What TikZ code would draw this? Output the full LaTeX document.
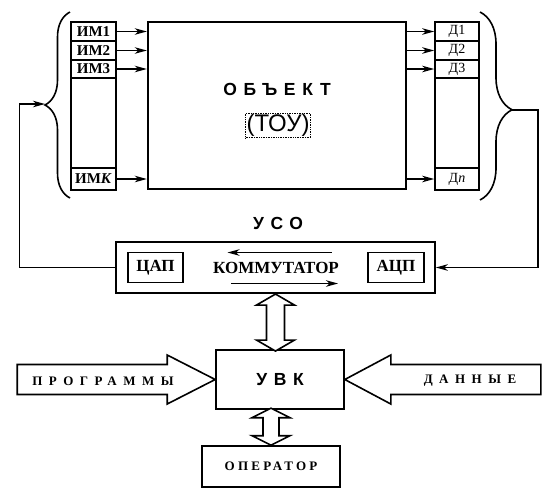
\documentclass[tikz,border=0pt]{standalone}
\usepackage{fontspec}
\setmainfont{Liberation Serif}
\setsansfont{Liberation Sans}
\newfontfamily\widesans[LetterSpace=38]{Liberation Sans}
\newfontfamily\wideserif[LetterSpace=50]{Liberation Serif}
\newfontfamily\midserif[LetterSpace=25]{Liberation Serif}
\usetikzlibrary{arrows.meta,decorations.pathreplacing}

\begin{document}
\begin{tikzpicture}[x=1pt,y=-1pt,thick]

    \tikzset{unit/.style={%
      draw,%
      rectangle,%
      line width=1.6pt,%
      inner sep=0pt}%
    };
    \tikzset{cell/.style={%
      unit,%
      minimum width=45pt,%
      minimum height=19pt,%
      font=\bfseries\fontsize{15}{15}\selectfont}%
    };
    \tikzset{dcell/.style={cell, minimum width=44pt, font=\fontsize{14}{14}\selectfont}};
    \tikzset{title/.style={font=\widesans\bfseries\fontsize{17.5}{17.5}\selectfont}};
    \tikzset{sig/.style={line width=1.4pt, -{Stealth[length=12pt,width=6.5pt,inset=3.5pt]}}};
    \tikzset{bigarrow/.style={draw, line width=1.6pt, fill=white, line join=miter}};
    \tikzset{curly/.style={line width=1.6pt, decorate}};

    \useasboundingbox (0,0) rectangle (553,491);

    %%%%%%%%%%%%%%%%%%%%%
    % object and ports  %
    %%%%%%%%%%%%%%%%%%%%%
    \node[unit, line width=2.4pt, minimum width=258pt, minimum height=167pt] (obj) at (277,105.5) {};
    \node[title] (objname) at (277,89) {ОБЪЕКТ};
    \node[draw, densely dotted, line width=0.7pt, inner sep=1pt,
      font=\sffamily\fontsize{24}{24}\selectfont] (tou) at (278,125.5) {(ТОУ)};

    \node[cell] (im1) at (93.5,31.5) {ИМ1};
    \node[cell] (im2) at (93.5,50.5) {ИМ2};
    \node[cell, minimum height=18pt] (im3) at (93.5,69) {ИМ3};
    \node[cell, minimum height=90pt] (imgap) at (93.5,123) {};
    \node[cell, minimum height=22pt] (imk) at (93.5,179) {ИМ\textit{К}};

    \node[dcell] (d1) at (457,31.5) {Д1};
    \node[dcell] (d2) at (457,50.5) {Д2};
    \node[dcell, minimum height=18pt] (d3) at (457,69) {Д3};
    \node[dcell, minimum height=90pt] (dgap) at (457,123) {};
    \node[dcell, minimum height=22pt] (dn) at (457,179) {Д\textit{n}};

    \draw[sig] (im1.east) -- (im1.east -| obj.west);
    \draw[sig] (im2.east) -- (im2.east -| obj.west);
    \draw[sig] (im3.east) -- (im3.east -| obj.west);
    \draw[sig] (imk.east) -- (imk.east -| obj.west);

    \draw[sig] (d1.west -| obj.east) -- (d1.west);
    \draw[sig] (d2.west -| obj.east) -- (d2.west);
    \draw[sig] (d3.west -| obj.east) -- (d3.west);
    \draw[sig] (dn.west -| obj.east) -- (dn.west);

    % braces
    \coordinate (lbtop) at (70,12);
    \coordinate (lbbot) at (70,198);
    \coordinate (lbtip) at (45,104);
    \coordinate (rbtop) at (480,12);
    \coordinate (rbbot) at (480,200);
    \coordinate (rbtip) at (512,110);
    \draw[curly, decoration={brace, amplitude=25pt, aspect=0.5}] (lbbot) -- (lbtop);
    \draw[curly, decoration={brace, amplitude=32pt, aspect=0.52}] (rbtop) -- (rbbot);

    %%%%%%%%%%%%%%%
    % USO         %
    %%%%%%%%%%%%%%%
    \node[unit, minimum width=319pt, minimum height=51.5pt] (uso) at (275.5,267.5) {};
    \node[title] (usoname) at (278,223) {УСО};
    \node[unit, minimum width=55pt, minimum height=30pt,
      font=\bfseries\fontsize{17}{17}\selectfont] (dac) at (155.5,267.5) {ЦАП};
    \node[unit, minimum width=56pt, minimum height=30pt,
      font=\bfseries\fontsize{17}{17}\selectfont] (adc) at (396,267.5) {АЦП};
    \node[font=\bfseries\fontsize{17}{17}\selectfont] (komm) at (276,268) {КОММУТАТОР};
    \draw[sig] ([shift={(55.5,-15.5)}]komm.center) -- ++(-104,0);
    \draw[sig] ([shift={(-45,15.5)}]komm.center) -- ++(107,0);

    \draw[sig] (uso.west) -- ++(-96,0) |- (lbtip);
    \draw[sig] (rbtip) -- ++(26,0) |- (uso.east);

    %%%%%%%%%%%%%%%
    % UVK         %
    %%%%%%%%%%%%%%%
    \node[unit, minimum width=128pt, minimum height=59pt, title] (uvk) at (280,379.5) {УВК};
    \node[unit, minimum width=138pt, minimum height=41pt,
      font=\midserif\bfseries\fontsize{13}{13}\selectfont] (oper) at (271,466.5) {ОПЕРАТОР};

    \draw[bigarrow] (uvk.west) -- ++(-48,-24.5) -- ++(0,9.5) -- ++(-150,0) -- ++(0,30)
      -- ++(150,0) -- ++(0,9.5) -- cycle;
    \draw[bigarrow] (uvk.east) -- ++(46,-24.5) -- ++(0,9.5) -- ++(150,0) -- ++(0,30)
      -- ++(-150,0) -- ++(0,9.5) -- cycle;
    \node[font=\wideserif\bfseries\fontsize{13}{13}\selectfont] (prog) at (103,381) {ПРОГРАММЫ};
    \node[font=\wideserif\bfseries\fontsize{13}{13}\selectfont] (data) at (470,381) {ДАННЫЕ};

    \draw[bigarrow] (uso.south) -- ++(19,11) -- ++(-10,0) -- ++(0,35) -- ++(10,0)
      -- ++(-19,11) -- ++(-19,-11) -- ++(10,0) -- ++(0,-35) -- ++(-10,0) -- cycle;
    \draw[bigarrow] (oper.north) -- ++(19,-9.5) -- ++(-11,0) -- ++(0,-18) -- ++(11,0)
      -- ++(-19,-9.5) -- ++(-19,9.5) -- ++(11,0) -- ++(0,18) -- ++(-11,0) -- cycle;

  \end{tikzpicture}
\end{document}
